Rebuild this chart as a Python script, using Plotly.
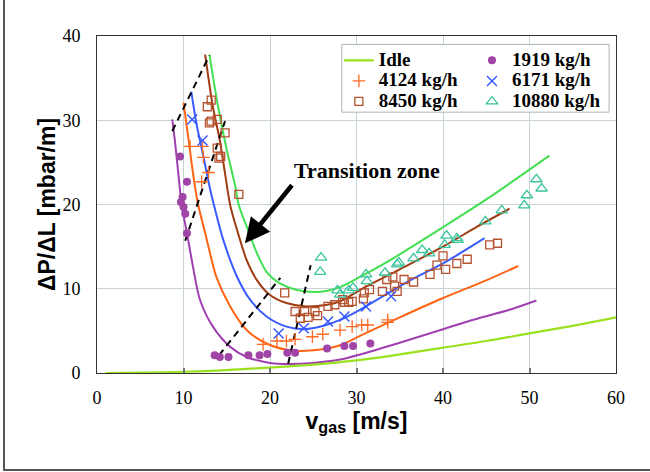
import plotly.graph_objects as go

# ---------------- data ----------------
idle_x = [1, 5, 10, 15, 20, 25, 30, 35, 40, 45, 50, 55, 60]
idle_y = [0.0, 0.05, 0.15, 0.35, 0.65, 1.0, 1.5, 2.2, 3.0, 3.8, 4.7, 5.6, 6.6]

c1919_x = [8.7, 9.0, 9.4, 9.8, 10.4, 11.1, 11.9, 13.4, 15.4, 17.3, 20.0, 22.3, 25.0, 28.1, 30.4, 35.0, 40.0, 43.1, 47.7, 50.8]
c1919_y = [30.1, 27.6, 23.7, 19.9, 16.6, 12.6, 8.7, 5.5, 3.1, 1.9, 1.2, 1.07, 1.2, 1.6, 2.2, 3.6, 5.2, 6.2, 7.5, 8.6]

c4124_x = [10.0, 10.6, 11.1, 11.65, 12.7, 13.8, 15.4, 17.3, 19.6, 22.3, 25.0, 28.1, 30.4, 35.0, 40.0, 45.0, 48.7]
c4124_y = [32.1, 27.6, 23.7, 20.2, 15.8, 11.4, 7.9, 5.1, 3.5, 2.7, 2.7, 3.3, 4.4, 6.6, 8.9, 11.0, 12.7]

c6171_x = [10.9, 11.5, 12.3, 13.1, 13.6, 14.6, 16.2, 17.7, 19.6, 21.9, 23.9, 26.2, 28.1, 30.4, 36.2, 40.0, 44.8]
c6171_y = [33.4, 29.6, 25.7, 21.7, 19.6, 15.8, 11.4, 8.7, 6.7, 5.5, 5.2, 5.6, 6.3, 7.5, 11.0, 13.0, 16.0]

c8450_x = [12.5, 13.4, 14.2, 14.8, 15.4, 16.3, 17.3, 18.5, 20.0, 21.9, 24.2, 26.6, 28.1, 30.4, 35.0, 40.0, 44.0, 47.7]
c8450_y = [37.8, 31.6, 27.6, 23.7, 19.9, 16.6, 13.4, 11.0, 9.25, 8.3, 7.9, 8.1, 8.5, 9.85, 12.3, 15.0, 17.4, 19.5]

c10880_x = [13.0, 14.0, 15.0, 16.0, 16.4, 17.3, 18.5, 19.6, 21.2, 23.1, 25.8, 28.1, 30.4, 33.9, 40.0, 45.0, 52.3]
c10880_y = [37.8, 31.6, 26.5, 22.1, 19.9, 17.4, 14.2, 12.0, 10.6, 9.85, 9.65, 10.2, 11.4, 13.4, 17.3, 20.6, 25.8]

m1919_x = [9.6, 10.4, 9.9, 9.7, 10.0, 10.2, 10.4, 13.6, 14.2, 15.2, 17.5, 18.8, 19.7, 22.0, 22.9, 26.6, 28.6, 29.6, 31.6]
m1919_y = [25.7, 22.7, 20.9, 20.3, 19.7, 18.9, 16.6, 2.1, 1.9, 1.9, 2.1, 2.1, 2.25, 2.4, 2.4, 2.9, 3.2, 3.2, 3.5]

m4124_x = [10.75, 12.2, 12.3, 12.9, 12.1, 19.2, 20.8, 21.9, 22.9, 24.9, 26.1, 28.1, 29.5, 30.6, 31.3, 33.6, 33.6]
m4124_y = [26.9, 26.9, 25.6, 23.8, 22.7, 3.4, 3.8, 3.8, 4.0, 4.3, 4.6, 5.1, 5.5, 5.7, 5.7, 6.3, 6.0]

m6171_x = [11.0, 12.2, 21.0, 23.9, 26.7, 28.6, 31.1, 34.0]
m6171_y = [30.1, 27.6, 4.7, 5.3, 6.1, 6.7, 7.9, 9.1]

m8450_x = [13.2, 12.75, 13.9, 13.0, 13.2, 14.8, 13.9, 14.3, 14.1, 16.4, 21.7, 22.9, 23.5, 24.4, 24.0, 25.2, 25.5,
           26.7, 27.5, 28.4, 28.6, 29.1, 29.5, 30.8, 30.9, 31.5, 33.0, 33.5, 34.2, 34.4, 34.7, 35.5, 36.6,
           38.5, 39.3, 40.3, 40.0, 41.6, 42.8, 45.4, 46.3]
m8450_y = [32.4, 31.6, 30.1, 29.7, 29.9, 28.5, 26.7, 25.7, 25.5, 21.2, 9.5, 7.3, 6.5, 6.6, 7.3, 7.3, 6.8,
           7.9, 8.1, 8.7, 8.4, 8.4, 8.5, 8.8, 9.5, 9.9, 9.7, 11.1, 11.4, 10.3, 9.7, 11.1, 10.8,
           11.7, 12.8, 12.3, 13.9, 13.0, 13.5, 15.2, 15.4]

m10880_x = [25.9, 25.8, 27.8, 28.1, 29.1, 29.6, 31.1, 31.2, 33.3, 34.7, 34.9, 36.6, 37.6, 38.4, 40.2, 41.7,
            40.4, 41.6, 44.9, 46.8, 50.8, 51.4, 49.7, 49.4]
m10880_y = [13.7, 12.0, 9.8, 9.3, 9.8, 10.1, 11.7, 10.9, 11.9, 12.9, 13.1, 13.6, 14.6, 14.2, 15.2, 15.8,
            16.3, 16.0, 18.0, 19.3, 23.0, 21.9, 21.1, 19.9]

dash_lines = [
    ([8.7, 13.0], [28.7, 37.7]),
    ([10.2, 14.8], [15.7, 29.9]),
    ([14.1, 21.2], [2.1, 11.3]),
    ([22.1, 24.7], [1.1, 12.8]),
]

x_ticks = [0, 10, 20, 30, 40, 50, 60]
y_ticks = [0, 10, 20, 30, 40]

# ---------------- styling ----------------
COL_IDLE = "#99e01e"
COL_1919 = "#a040b0"
COL_4124 = "#ff6414"
COL_6171 = "#3a5cff"
COL_8450 = "#a03c12"
COL_10880 = "#42e052"
MK_1919 = "#a044a8"
MK_4124 = "#ff6a24"
MK_6171 = "#3355ff"
MK_8450 = "#b4522e"
MK_10880 = "#3cc49c"

def lname(t):
    return "<b><span style='font-size:19px'>" + t + "</span></b>"

fig = go.Figure()

# fitted curves (no legend)
for xs, ys, c in [(c1919_x, c1919_y, COL_1919), (c4124_x, c4124_y, COL_4124),
                  (c6171_x, c6171_y, COL_6171), (c8450_x, c8450_y, COL_8450),
                  (c10880_x, c10880_y, COL_10880)]:
    fig.add_trace(go.Scatter(x=xs, y=ys, mode="lines", line=dict(color=c, width=2, shape="spline", smoothing=0.8),
                             showlegend=False, hoverinfo="skip"))

# dashed transition boundaries
for xs, ys in dash_lines:
    fig.add_trace(go.Scatter(x=xs, y=ys, mode="lines", line=dict(color="black", width=2, dash="7px,5px"),
                             showlegend=False, hoverinfo="skip"))

# legend column 1
fig.add_trace(go.Scatter(x=idle_x, y=idle_y, mode="lines", name=lname("Idle"),
                         line=dict(color=COL_IDLE, width=2.2, shape="spline"), legend="legend"))
fig.add_trace(go.Scatter(x=m4124_x, y=m4124_y, mode="markers", name=lname("4124 kg/h"),
                         marker=dict(symbol="cross-thin", size=9, line=dict(color=MK_4124, width=1.3)),
                         legend="legend"))
fig.add_trace(go.Scatter(x=m8450_x, y=m8450_y, mode="markers", name=lname("8450 kg/h"),
                         marker=dict(symbol="square-open", size=8, color=MK_8450, line=dict(width=1.3)),
                         legend="legend"))
# legend column 2
fig.add_trace(go.Scatter(x=m1919_x, y=m1919_y, mode="markers", name=lname("1919 kg/h"),
                         marker=dict(symbol="circle", size=8, color=MK_1919), legend="legend2"))
fig.add_trace(go.Scatter(x=m6171_x, y=m6171_y, mode="markers", name=lname("6171 kg/h"),
                         marker=dict(symbol="x-thin", size=10, line=dict(color=MK_6171, width=1.4)),
                         legend="legend2"))
fig.add_trace(go.Scatter(x=m10880_x, y=m10880_y, mode="markers", name=lname("10880 kg/h"),
                         marker=dict(symbol="triangle-up-open", size=10, color=MK_10880, line=dict(width=1.3)),
                         legend="legend2"))

legend_common = dict(font=dict(family="Liberation Serif", size=13.5, color="black"),
                     bgcolor="rgba(0,0,0,0)", borderwidth=0, yanchor="top", xanchor="left",
                     tracegroupgap=0, itemclick=False, itemdoubleclick=False)

fig.update_layout(
    width=650, height=472,
    margin=dict(l=97, r=34, t=36, b=99),
    paper_bgcolor="white", plot_bgcolor="white",
    font=dict(family="Liberation Serif", size=18, color="black"),
    legend=dict(x=0.466, y=0.973, **legend_common),
    legend2=dict(x=0.7225, y=0.973, **legend_common),
    xaxis=dict(range=[0, 60], tickvals=x_ticks, showgrid=True, gridcolor="#c8d3d8", gridwidth=1,
               showline=True, linecolor="#333333", linewidth=1, mirror=True, zeroline=False,
               ticks="inside", ticklen=5, tickcolor="#777777", tickwidth=2,
               tickfont=dict(family="Liberation Serif", size=18, color="black"), ticklabelstandoff=8,
               title=dict(text="<b>v<sub>gas</sub> [m/s]</b>", standoff=2,
                          font=dict(family="Liberation Sans", size=23, color="black"))),
    yaxis=dict(range=[0, 40], tickvals=y_ticks, showgrid=True, gridcolor="#c8d3d8", gridwidth=1,
               showline=True, linecolor="#333333", linewidth=1, mirror=True, zeroline=False,
               tickfont=dict(family="Liberation Serif", size=18, color="black"), ticklabelstandoff=12,
               title=dict(text="<b>ΔP/ΔL [mbar/m]</b>", standoff=0,
                          font=dict(family="Liberation Sans", size=23, color="black"))),
    showlegend=True,
)

# legend box (between gridlines and traces)
fig.add_shape(type="rect", xref="x", yref="y", x0=28.3, x1=59.2, y0=30.96, y1=39.0,
              fillcolor="white", line=dict(color="#a9b6ba", width=1), layer="between")

# outer figure frame (left and bottom visible)
fig.add_shape(type="rect", xref="paper", yref="paper", x0=-0.1792, x1=1.10, y0=-0.2876, y1=1.15,
              line=dict(color="#555555", width=2), fillcolor="rgba(0,0,0,0)", layer="below")

# Transition zone label with arrow
fig.add_annotation(text="<b>Transition zone</b>", x=17.1, y=15.4, xref="x", yref="y",
                   ax=47, ay=-58, showarrow=True, xanchor="left", yanchor="bottom",
                   arrowhead=2, arrowsize=1.1, arrowwidth=4.5, arrowcolor="black", standoff=0,
                   font=dict(family="Liberation Serif", size=22, color="black"))

fig.write_html("out.html", config={"displayModeBar": False},
               post_script="document.body.style.margin='0';document.body.style.overflow='hidden';")
